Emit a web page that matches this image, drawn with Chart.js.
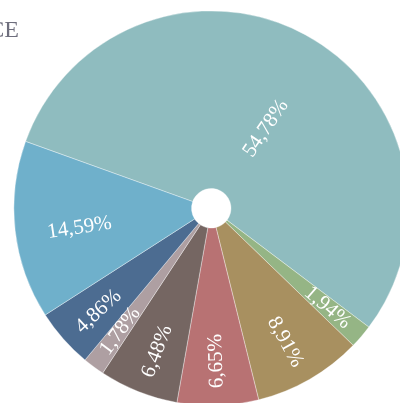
<!DOCTYPE html>
<html>
<head>
<meta charset="utf-8">
<script src="https://cdn.jsdelivr.net/npm/chart.js@4/dist/chart.umd.min.js"></script>
<style>
  html, body { margin: 0; padding: 0; background: #fff; overflow: hidden; }
  #wrap { position: relative; width: 400px; height: 403px; overflow: hidden; }
  canvas { position: absolute; left: 0; top: 0; }
</style>
</head>
<body>
<div id="wrap"><canvas id="pie" width="409" height="406"></canvas></div>
<script>
// Slice data (clockwise, starting with the large slice)
const shares = [54.78, 1.94, 8.91, 6.65, 6.48, 1.78, 4.86, 14.59];
const sliceColors = ['#8fbcbf', '#95b585', '#a89060', '#b87273', '#756662', '#ae9fa2', '#4c6c91', '#6fb0cb'];
const titleText = 'CE';

// where each label sits: fraction of outer radius, small angle tweak in degrees
const labelPlace = [
  { r: 0.49, a: 6 }, { r: 0.775, a: 0 }, { r: 0.775, a: 1 }, { r: 0.775, a: 0 },
  { r: 0.775, a: -1 }, { r: 0.775, a: 0 }, { r: 0.775, a: -1 }, { r: 0.675, a: -2 }
];

const radialLabels = {
  id: 'radialLabels',
  afterDatasetsDraw(chart) {
    const ctx = chart.ctx;
    const meta = chart.getDatasetMeta(0);
    ctx.save();
    ctx.fillStyle = '#ffffff';
    ctx.font = '21px "Liberation Serif", "Times New Roman", serif';
    ctx.textAlign = 'center';
    ctx.textBaseline = 'middle';
    meta.data.forEach((arc, i) => {
      const p = arc.getProps(['x', 'y', 'startAngle', 'endAngle', 'outerRadius'], true);
      const tweak = labelPlace[i].a * Math.PI / 180;
      const mid = (p.startAngle + p.endAngle) / 2 + tweak;
      const r = p.outerRadius * labelPlace[i].r;
      const x = p.x + Math.cos(mid) * r;
      const y = p.y + Math.sin(mid) * r;
      let rot = mid;
      // flip the text on the left half so it stays readable
      if (Math.cos(mid) < 0.1) rot = mid - Math.PI;
      ctx.save();
      ctx.translate(x, y);
      ctx.rotate(rot);
      ctx.fillText(shares[i].toFixed(2).replace('.', ',') + '%', 0, 0);
      ctx.restore();
    });
    ctx.restore();
  }
};

const cornerTitle = {
  id: 'cornerTitle',
  afterDraw(chart) {
    const ctx = chart.ctx;
    ctx.save();
    ctx.fillStyle = '#6e6e7d';
    ctx.font = '24px "Liberation Serif", "Times New Roman", serif';
    ctx.textAlign = 'right';
    ctx.textBaseline = 'alphabetic';
    ctx.fillText(titleText, 19, 37);
    ctx.restore();
  }
};

new Chart(document.getElementById('pie').getContext('2d'), {
  type: 'doughnut',
  data: {
    labels: shares.map(v => v + '%'),
    datasets: [{
      data: shares,
      backgroundColor: sliceColors,
      borderColor: 'rgba(255,255,255,0.45)',
      borderWidth: 0.8,
      hoverOffset: 0
    }]
  },
  options: {
    responsive: false,
    animation: false,
    cutout: '10%',
    rotation: 289.8,
    layout: { padding: { left: 13.5, top: 10.5, right: 0, bottom: 0 } },
    plugins: {
      legend: { display: false },
      tooltip: { enabled: false },
      title: { display: false }
    }
  },
  plugins: [radialLabels, cornerTitle]
});
</script>
</body>
</html>
